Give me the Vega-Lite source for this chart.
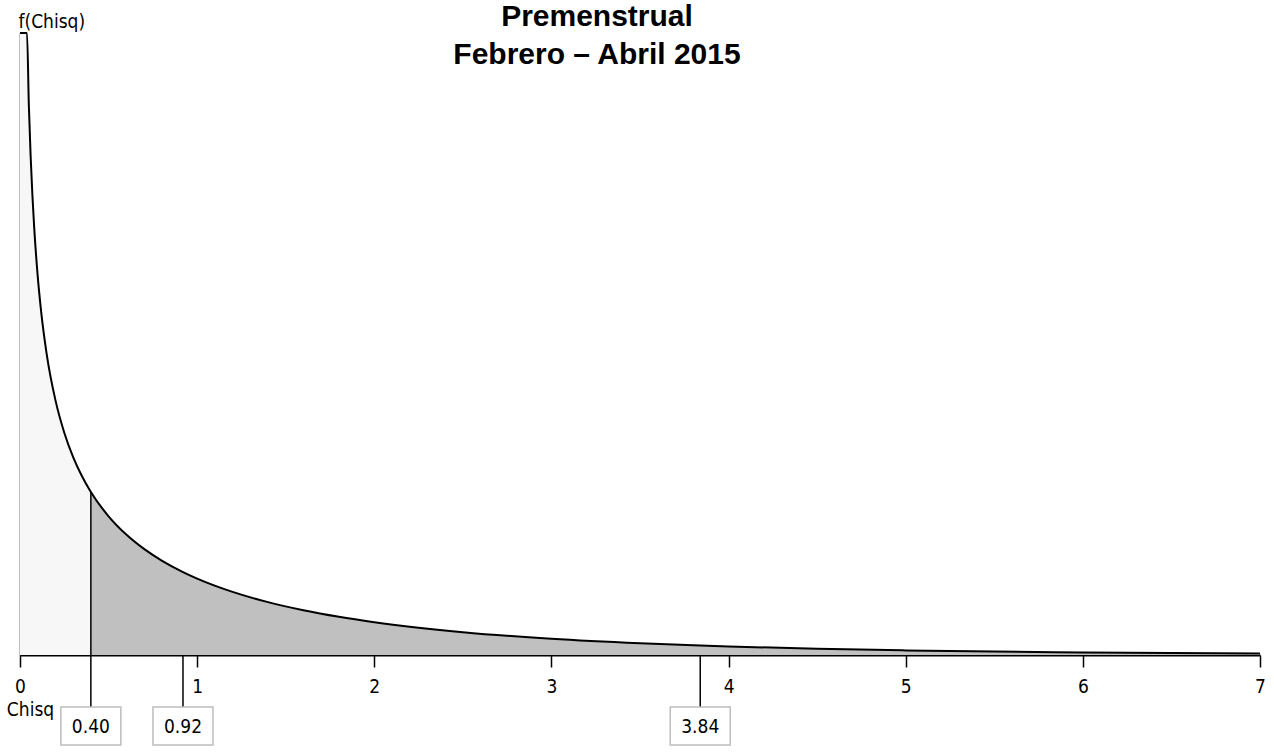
{
  "$schema": "https://vega.github.io/schema/vega-lite/v6.json",
  "autosize": "none",
  "width": 1240,
  "height": 622,
  "padding": {"left": 20, "top": 33, "right": 14, "bottom": 100},
  "background": "white",
  "config": {"view": {"stroke": null}},
  "title": {
    "text": ["Premenstrual", "Febrero – Abril 2015"],
    "font": "Liberation Sans",
    "fontSize": 30,
    "fontWeight": "bold",
    "color": "black",
    "lineHeight": 38,
    "anchor": "middle",
    "dx": -43,
    "offset": -58
  },
  "datasets": {
    "curve": [
      {"x": 0, "f": 1.97, "region": "a"},
      {"x": 0.0394, "f": 1.97, "region": "a"},
      {"x": 0.05, "f": 1.7401, "region": "a"},
      {"x": 0.06, "f": 1.5805, "region": "a"},
      {"x": 0.07, "f": 1.456, "region": "a"},
      {"x": 0.08, "f": 1.3552, "region": "a"},
      {"x": 0.1, "f": 1.2, "region": "a"},
      {"x": 0.12, "f": 1.0846, "region": "a"},
      {"x": 0.15, "f": 0.9556, "region": "a"},
      {"x": 0.2, "f": 0.8072, "region": "a"},
      {"x": 0.25, "f": 0.7041, "region": "a"},
      {"x": 0.3, "f": 0.6269, "region": "a"},
      {"x": 0.35, "f": 0.5661, "region": "a"},
      {"x": 0.4, "f": 0.5164, "region": "a"},
      {"x": 0.4, "f": 0.5164, "region": "b"},
      {"x": 0.5, "f": 0.4394, "region": "b"},
      {"x": 0.6, "f": 0.3815, "region": "b"},
      {"x": 0.7, "f": 0.336, "region": "b"},
      {"x": 0.8, "f": 0.299, "region": "b"},
      {"x": 0.92, "f": 0.2626, "region": "b"},
      {"x": 1.0, "f": 0.242, "region": "b"},
      {"x": 1.2, "f": 0.1999, "region": "b"},
      {"x": 1.4, "f": 0.1674, "region": "b"},
      {"x": 1.6, "f": 0.1417, "region": "b"},
      {"x": 1.8, "f": 0.1209, "region": "b"},
      {"x": 2.0, "f": 0.1038, "region": "b"},
      {"x": 2.5, "f": 0.0723, "region": "b"},
      {"x": 3.0, "f": 0.0514, "region": "b"},
      {"x": 3.5, "f": 0.0371, "region": "b"},
      {"x": 3.84, "f": 0.0298, "region": "b"},
      {"x": 4.0, "f": 0.027, "region": "b"},
      {"x": 4.5, "f": 0.0198, "region": "b"},
      {"x": 5.0, "f": 0.0146, "region": "b"},
      {"x": 5.5, "f": 0.0109, "region": "b"},
      {"x": 6.0, "f": 0.0081, "region": "b"},
      {"x": 6.5, "f": 0.0061, "region": "b"},
      {"x": 7.0, "f": 0.0046, "region": "b"}
    ],
    "marks": [
      {"x": 0.4, "f": 0.5164, "label": "0.40"},
      {"x": 0.92, "f": 0, "label": "0.92"},
      {"x": 3.84, "f": 0, "label": "3.84"}
    ]
  },
  "layer": [
    {
      "data": {"name": "curve"},
      "mark": {"type": "area", "interpolate": "monotone"},
      "encoding": {
        "x": {
          "field": "x", "type": "quantitative",
          "scale": {"domain": [0, 7], "nice": false, "zero": false},
          "axis": {
            "values": [0, 1, 2, 3, 4, 5, 6, 7],
            "format": "d",
            "grid": false,
            "domainColor": "black",
            "domainWidth": 2,
            "tickColor": "black",
            "tickWidth": 1.5,
            "tickSize": 12,
            "labelFont": "'Liberation Sans Narrow', 'Arial Narrow', 'DejaVu Sans Condensed', 'Liberation Sans', sans-serif",
            "labelFontSize": 19,
            "labelColor": "black",
            "labelPadding": 10,
            "labelFlush": false,
            "title": "Chisq",
            "titleFont": "'Liberation Sans Narrow', 'Arial Narrow', 'DejaVu Sans Condensed', 'Liberation Sans', sans-serif",
            "titleFontSize": 19,
            "titleFontWeight": "normal",
            "titleColor": "black",
            "titleX": 10,
            "titleY": 60,
            "titleAlign": "center",
            "titleBaseline": "alphabetic"
          }
        },
        "y": {
          "field": "f", "type": "quantitative",
          "stack": null,
          "scale": {"domain": [0, 1.97], "nice": false},
          "axis": {
            "grid": false,
            "ticks": false,
            "labels": false,
            "domainColor": "black",
            "domainWidth": 1.5,
            "title": "f(Chisq)",
            "titleFont": "'Liberation Sans Narrow', 'Arial Narrow', 'DejaVu Sans Condensed', 'Liberation Sans', sans-serif",
            "titleFontSize": 19,
            "titleFontWeight": "normal",
            "titleColor": "black",
            "titleAngle": 0,
            "titleAlign": "left",
            "titleBaseline": "alphabetic",
            "titleX": -2,
            "titleY": -6
          }
        },
        "detail": {"field": "region"},
        "color": {
          "field": "region", "type": "nominal",
          "scale": {"domain": ["a", "b"], "range": ["#f7f7f7", "#c0c0c0"]},
          "legend": null
        }
      }
    },
    {
      "data": {"name": "curve"},
      "transform": [{"filter": "datum.region == 'b' || datum.x < 0.4"}],
      "mark": {"type": "line", "interpolate": "monotone", "color": "black", "strokeWidth": 2},
      "encoding": {
        "x": {"field": "x", "type": "quantitative"},
        "y": {"field": "f", "type": "quantitative"}
      }
    },
    {
      "data": {"name": "marks"},
      "mark": {"type": "rule", "color": "black", "strokeWidth": 1.5, "clip": false},
      "encoding": {
        "x": {"field": "x", "type": "quantitative"},
        "y": {"field": "f", "type": "quantitative"},
        "y2": {"datum": -0.1647}
      }
    },
    {
      "data": {"name": "marks"},
      "mark": {
        "type": "point",
        "shape": "M-1,-0.633L1,-0.633L1,0.633L-1,0.633Z",
        "size": 3600,
        "filled": true,
        "fill": "white",
        "stroke": "#bdbdbd",
        "strokeWidth": 1.5,
        "opacity": 1,
        "clip": false
      },
      "encoding": {
        "x": {"field": "x", "type": "quantitative"},
        "y": {"datum": -0.2251}
      }
    },
    {
      "data": {"name": "marks"},
      "mark": {
        "type": "text",
        "font": "'Liberation Sans Narrow', 'Arial Narrow', 'DejaVu Sans Condensed', 'Liberation Sans', sans-serif",
        "fontSize": 19,
        "color": "black",
        "align": "center",
        "baseline": "middle",
        "dy": 1,
        "clip": false
      },
      "encoding": {
        "x": {"field": "x", "type": "quantitative"},
        "y": {"datum": -0.2251},
        "text": {"field": "label"}
      }
    }
  ]
}
